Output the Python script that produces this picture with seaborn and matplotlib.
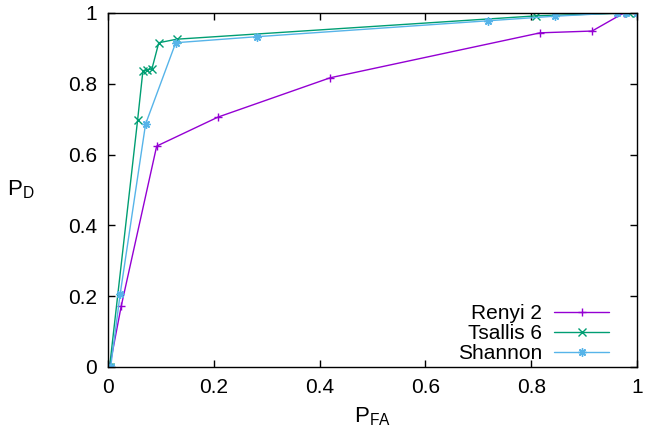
import matplotlib
matplotlib.use("Agg")
import matplotlib.pyplot as plt
import seaborn as sns
import pandas as pd

# ROC curves: false-alarm probability vs detection probability
renyi_pfa = [0.0, 0.003, 0.025, 0.092, 0.208, 0.42, 0.817, 0.915, 0.975, 1.0]
renyi_pd = [0.0, 0.0, 0.172, 0.624, 0.706, 0.817, 0.944, 0.949, 1.0, 1.0]

tsallis_pfa = [0.0, 0.003, 0.056, 0.066, 0.073, 0.083, 0.096, 0.13, 0.81, 0.985, 1.0]
tsallis_pd = [0.0, 0.0, 0.698, 0.837, 0.839, 0.842, 0.916, 0.926, 0.992, 1.0, 1.0]

shannon_pfa = [0.0, 0.005, 0.023, 0.071, 0.128, 0.281, 0.718, 0.845, 0.962, 0.98, 1.0]
shannon_pd = [0.0, 0.0, 0.206, 0.686, 0.916, 0.933, 0.978, 0.991, 1.0, 1.0, 1.0]

series_names = ["Renyi 2", "Tsallis 6", "Shannon"]
series_colors = ["#9400D3", "#009E73", "#56B4E9"]
x_ticks = [0, 0.2, 0.4, 0.6, 0.8, 1]
x_tick_labels = ["0", "0.2", "0.4", "0.6", "0.8", "1"]
y_ticks = [0, 0.2, 0.4, 0.6, 0.8, 1]
y_tick_labels = ["0", "0.2", "0.4", "0.6", "0.8", "1"]

frames = []
for name, xs, ys in zip(series_names,
                        [renyi_pfa, tsallis_pfa, shannon_pfa],
                        [renyi_pd, tsallis_pd, shannon_pd]):
    frames.append(pd.DataFrame({"pfa": xs, "pd": ys, "method": name}))
df = pd.concat(frames, ignore_index=True)

sns.set_style("white")
plt.rcParams["font.family"] = ["Liberation Sans", "DejaVu Sans"]
plt.rcParams["mathtext.fontset"] = "custom"
plt.rcParams["mathtext.rm"] = "Liberation Sans"
plt.rcParams["mathtext.it"] = "Liberation Sans"
plt.rcParams["text.color"] = "black"
plt.rcParams["axes.labelcolor"] = "black"
plt.rcParams["xtick.color"] = "black"
plt.rcParams["ytick.color"] = "black"

fig = plt.figure(figsize=(6.45, 4.33), dpi=100)
ax = fig.add_axes([108 / 645, 1 - 367 / 433, 529 / 645, 354 / 433])

markers = {"Renyi 2": "+", "Tsallis 6": "x", "Shannon": (8, 2, 0)}
palette = dict(zip(series_names, series_colors))
sns.lineplot(data=df, x="pfa", y="pd", hue="method", style="method",
             hue_order=series_names, style_order=series_names,
             palette=palette, markers=markers, dashes=False,
             sort=False, estimator=None,
             linewidth=1.0, markersize=6, markeredgewidth=1.0, ax=ax)

# outline-style markers take the line colour
for line in ax.lines:
    line.set_markeredgecolor(line.get_color())

ax.set_xlim(0, 1)
ax.set_ylim(0, 1)
ax.set_xticks(x_ticks)
ax.set_xticklabels(x_tick_labels)
ax.set_yticks(y_ticks)
ax.set_yticklabels(y_tick_labels)
ax.tick_params(direction="in", length=5, width=1, labelsize=15, color="black",
               labelcolor="black",
               top=True, right=True, bottom=True, left=True, pad=8)
for spine in ax.spines.values():
    spine.set_color("black")
    spine.set_linewidth(1.0)

ax.set_xlabel(r"P$_{\mathrm{FA}}$", fontsize=16, labelpad=6)
ax.set_ylabel(r"P$_{\mathrm{D}}$", fontsize=16, rotation=0, va="center")
ax.yaxis.set_label_coords(-0.165, 0.5)

handles, labels = ax.get_legend_handles_labels()
for h in handles:
    h.set_markeredgecolor(h.get_color())
ax.legend(handles, labels, loc="lower right", markerfirst=False, frameon=False,
          fontsize=15, handlelength=2.6, handletextpad=0.6, labelspacing=0.05,
          borderaxespad=0.2, bbox_to_anchor=(0.97, -0.025))

fig.savefig("out.png", dpi=100)
